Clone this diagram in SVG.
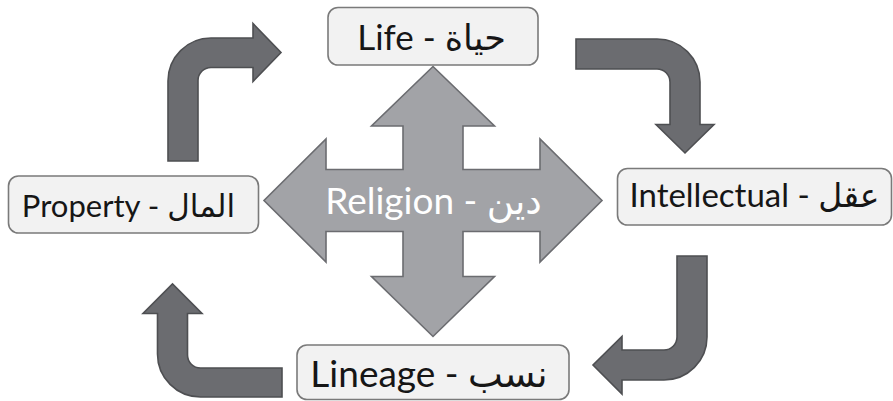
<svg xmlns="http://www.w3.org/2000/svg" width="893" height="401" viewBox="0 0 893 401">
<style>
.box{fill:#f2f2f2;stroke:#7a7a7a;stroke-width:1.6}
.lbl{font-family:Lato,"DejaVu Sans",sans-serif;fill:#161616;text-anchor:middle}
.bent{fill:#6b6c70;stroke:#4e4f52;stroke-width:1.6;stroke-linejoin:miter}
.cross{fill:#a2a3a7;stroke:#6b6c70;stroke-width:1.6}
</style>
<rect width="893" height="401" fill="#ffffff"/>
<g id="connectors">
<path class="bent" d="M168,161 L168,81 A43,43 0 0 1 211,38 L253,38 L253,23.5 L281,52.5 L253,81.5 L253,67.5 L211,67.5 A13,13 0 0 0 198,80.5 L198,161 Z"/>
<path class="bent" d="M576,39 L657,39 A43,43 0 0 1 700,82 L700,124.5 L714,124.5 L685,153 L656,124.5 L670,124.5 L670,82 A13,13 0 0 0 657,69 L576,69 Z"/>
<path class="bent" d="M677,256 L707,256 L707,337 A43,43 0 0 1 664,380 L622,380 L622,394 L593,365 L622,336.5 L622,350 L664,350 A13,13 0 0 0 677,337 Z"/>
<path class="bent" d="M282,368 L282,397 L200.5,397 A43,43 0 0 1 157.5,354 L157.5,313.5 L143,313.5 L172.5,284 L202,313.5 L187.5,313.5 L187.5,355 A13,13 0 0 0 200.5,368 Z"/>
</g>
<g id="religion">
<path class="cross" d="M433,66.5 L494.5,126 L463,126 L463,169.5 L540,169.5 L540,139 L602,200.5 L540,262 L540,231.5 L463,231.5 L463,276.5 L494.5,276.5 L433,336.5 L371.5,276.5 L403,276.5 L403,231.5 L326,231.5 L326,262 L264,200.5 L326,139 L326,169.5 L403,169.5 L403,126 L371.5,126 Z"/>
<text class="lbl" x="433.5" y="214" font-size="37" style="fill:#ffffff">Religion - دين</text>
</g>
<g id="life">
<rect class="box" x="328" y="7.5" width="210" height="57.5" rx="10"/>
<text class="lbl" x="431.5" y="50" font-size="35">Life - حياة</text>
</g>
<g id="intellectual">
<rect class="box" x="617.5" y="168.5" width="274" height="56.5" rx="10"/>
<text class="lbl" x="754.5" y="207" font-size="33">Intellectual - عقل</text>
</g>
<g id="property">
<rect class="box" x="8.5" y="176" width="250" height="57" rx="10"/>
<text class="lbl" x="128.5" y="217" font-size="31">Property - المال</text>
</g>
<g id="lineage">
<rect class="box" x="297" y="345" width="272" height="54.5" rx="10"/>
<text class="lbl" x="429" y="387" font-size="37">Lineage - نسب</text>
</g>
</svg>
